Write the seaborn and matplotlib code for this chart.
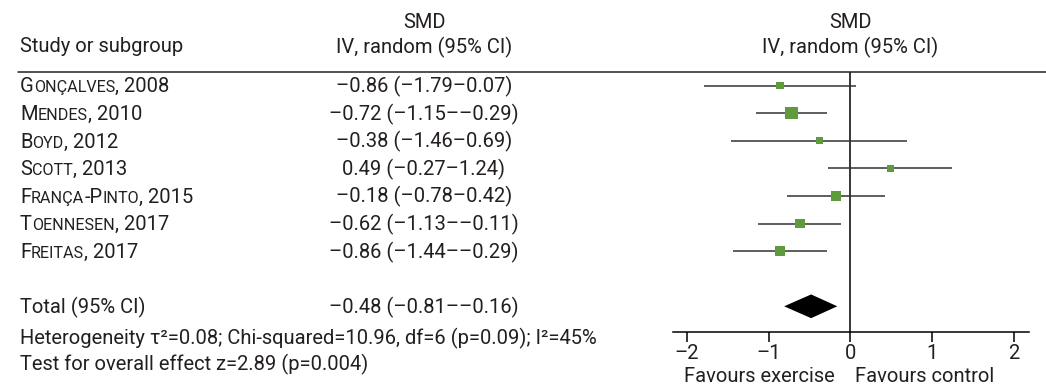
import matplotlib
matplotlib.use("Agg")
import matplotlib.pyplot as plt
import matplotlib.transforms as mtransforms
from matplotlib.lines import Line2D
import seaborn as sns
import pandas as pd


# study rows of the forest plot
studies = ["Gonçalves", "Mendes", "Boyd", "Scott", "França-Pinto", "Toennesen", "Freitas"]
years = [2008, 2010, 2012, 2013, 2015, 2017, 2017]
smd = [-0.86, -0.72, -0.38, 0.49, -0.18, -0.62, -0.86]
ci_low = [-1.79, -1.15, -1.46, -0.27, -0.78, -1.13, -1.44]
ci_high = [0.07, -0.29, 0.69, 1.24, 0.42, -0.11, -0.29]
# relative weights, estimated from the size of the squares
weights = [9, 24, 8, 9, 16, 16, 16]

total_smd = -0.48
total_low = -0.81
total_high = -0.16

heterogeneity = "Heterogeneity τ²=0.08; Chi-squared=10.96, df=6 (p=0.09); I²=45%"
overall = "Test for overall effect z=2.89 (p=0.004)"
x_ticks = [-2, -1, 0, 1, 2]

GREEN = "#5f9a3c"
TXT = "#231f20"
W, H = 1046, 388


def fx(px):
    return px / W


def fy(px):
    return 1 - px / H


def en(v):
    return f"{v:.2f}".replace("-", "–")


def fmt(est, lo, hi):
    return f"{en(est)} ({en(lo)}–{en(hi)})"


sns.set_theme(style="white")
plt.rcParams["font.family"] = ["Roboto", "DejaVu Sans"]
plt.rcParams["text.color"] = TXT

df = pd.DataFrame({
    "study": studies,
    "year": years,
    "smd": smd,
    "lo": ci_low,
    "hi": ci_high,
    "weight": weights,
})
df["row"] = range(len(df))
total_row = len(df) + 1

fig = plt.figure(figsize=(W / 100, H / 100), dpi=100)
ax_left, ax_right = 673, 1028.5
ax_top, ax_bottom = 72, 331.7
ax = fig.add_axes([fx(ax_left), fy(ax_bottom), fx(ax_right - ax_left), (ax_bottom - ax_top) / H])

# confidence intervals
ax.hlines(df["row"], df["lo"], df["hi"], color="#333333", lw=1.1, zorder=2)
# study squares
sns.scatterplot(
    data=df, x="smd", y="row", size="weight", sizes=(24, 75),
    marker="s", color=GREEN, edgecolor="none", legend=False, ax=ax, zorder=3,
)
# pooled diamond
dh = 0.43
ax.fill(
    [total_low, total_smd, total_high, total_smd],
    [total_row, total_row - dh, total_row, total_row + dh],
    color="black", lw=0, zorder=3,
)
ax.axvline(0, color="black", lw=1.1, zorder=1)

row_px = 27.6
ax.set_ylim((ax_bottom - 85.5) / row_px, (ax_top - 85.5) / row_px)
ax.set_xlim(-2.17, 2.18)
fs = 14.5
ax.set_xticks(x_ticks)
ax.set_xticklabels([str(t).replace("-", "–") for t in x_ticks], fontsize=fs, color=TXT)
ax.set_yticks([])
ax.set_xlabel("")
ax.set_ylabel("")
for s in ["left", "right", "top"]:
    ax.spines[s].set_visible(False)
ax.spines["bottom"].set_color("black")
ax.spines["bottom"].set_linewidth(1.1)
ax.tick_params(axis="x", direction="out", length=7, width=1.1, color="black", pad=2, bottom=True)
ax.patch.set_alpha(0)

# header rule across the whole figure
fig.add_artist(Line2D([fx(18), 1], [fy(72), fy(72)], transform=fig.transFigure, color="#222222", lw=1.1))

fig.text(fx(20), fy(47), "Study or subgroup", fontsize=fs, va="center")
fig.text(fx(424), fy(22), "SMD", fontsize=fs, va="center", ha="center")
fig.text(fx(424), fy(47), "IV, random (95% CI)", fontsize=fs, va="center", ha="center")
hdr = mtransforms.blended_transform_factory(ax.transData, fig.transFigure)
ax.text(0, fy(22), "SMD", transform=hdr, fontsize=fs, va="center", ha="center")
ax.text(0, fy(47), "IV, random (95% CI)", transform=hdr, fontsize=fs, va="center", ha="center")

rows_tr = mtransforms.blended_transform_factory(fig.transFigure, ax.transData)
base = 0.25


def small_caps(y, name, year):
    # first letters full size, the rest as smaller capitals
    segs = []
    for ch in name:
        big = not ch.islower()
        if segs and segs[-1][1] == big:
            segs[-1][0] += ch
        else:
            segs.append([ch, big])
    segs.append([f", {year}", True])
    prev = None
    for text, big in segs:
        size = fs if big else fs * 0.8
        if prev is None:
            prev = ax.text(fx(20), y, text.upper(), transform=rows_tr, fontsize=size, va="baseline")
        else:
            prev = ax.annotate(text.upper(), xy=(1, y), xycoords=(prev, ax.transData),
                               fontsize=size, va="baseline", ha="left")


for r in df.itertuples():
    small_caps(r.row + base, r.study, r.year)
    ax.text(fx(424), r.row + base, fmt(r.smd, r.lo, r.hi), transform=rows_tr,
            fontsize=fs, va="baseline", ha="center")

ax.text(fx(20), total_row + base, "Total (95% CI)", transform=rows_tr, fontsize=fs, va="baseline")
ax.text(fx(424), total_row + base, fmt(total_smd, total_low, total_high), transform=rows_tr,
        fontsize=fs, va="baseline", ha="center")

fig.text(fx(20), fy(338), heterogeneity, fontsize=fs, va="center")
fig.text(fx(20), fy(364), overall, fontsize=fs, va="center")

ax.text(-0.19, fy(377), "Favours exercise", transform=hdr, fontsize=fs, va="center", ha="right")
ax.text(0.06, fy(377), "Favours control", transform=hdr, fontsize=fs, va="center", ha="left")

fig.savefig("out.png", dpi=100)
